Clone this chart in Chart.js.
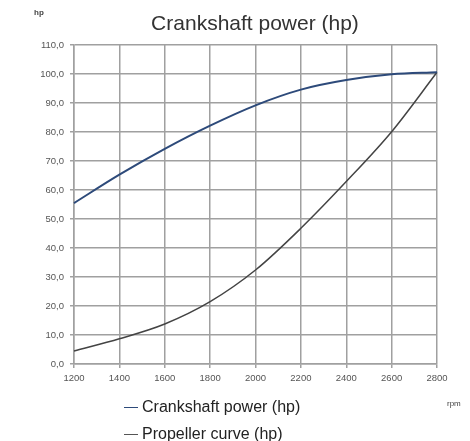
<!DOCTYPE html>
<html><head><meta charset="utf-8">
<script src="https://cdn.jsdelivr.net/npm/chart.js@4/dist/chart.umd.min.js"></script>
<style>
html,body{margin:0;padding:0;background:#fff;}
#wrap{position:relative;width:470px;height:441px;overflow:hidden;font-family:"Liberation Sans",Arial,sans-serif;}
canvas{position:absolute;left:0;top:0;}
.t{position:absolute;white-space:nowrap;color:#333;}
.lg{position:absolute;left:124px;font-size:16px;color:#222;white-space:nowrap;}
.lg span{display:inline-block;width:14px;height:0;border-top:1.5px solid;vertical-align:middle;margin-right:4px;}
</style></head>
<body><div id="wrap">
<canvas id="c" width="470" height="441"></canvas>
<div class="t" style="left:0;width:470px;top:11px;text-align:center;font-size:21px;padding-left:40px;box-sizing:border-box;">Crankshaft power (hp)</div>
<div class="t" style="left:34px;top:8px;font-size:8px;font-weight:bold;color:#444;">hp</div>
<div class="t" style="left:447px;top:399px;font-size:8px;color:#444;">rpm</div>
<div class="lg" style="top:398px;"><span style="border-color:#2d4a7a"></span>Crankshaft power (hp)</div>
<div class="lg" style="top:425px;"><span style="border-color:#555"></span>Propeller curve (hp)</div>
</div>
<script>
const rpm = ["1200","1400","1600","1800","2000","2200","2400","2600","2800"];
const crankshaft = [55.5, 65.3, 74.2, 82.2, 89.2, 94.6, 97.9, 99.9, 100.6];
const propeller = [4.5, 8.7, 13.8, 21.5, 32.4, 46.8, 62.9, 80.1, 100.6];
const yTicks = [0,10,20,30,40,50,60,70,80,90,100,110];

new Chart(document.getElementById('c'), {
  type: 'line',
  data: {
    labels: rpm,
    datasets: [
      {label:'Crankshaft power (hp)', data: crankshaft, borderColor:'#2d4a7a', borderWidth:2, pointRadius:0, tension:0.35, cubicInterpolationMode:'monotone', fill:false},
      {label:'Propeller curve (hp)', data: propeller, borderColor:'#444', borderWidth:1.5, pointRadius:0, tension:0.35, cubicInterpolationMode:'monotone', fill:false}
    ]
  },
  options: {
    responsive:false, animation:false,
    layout:{padding:{left:0,right:33,top:45,bottom:0}},
    plugins:{legend:{display:false}, title:{display:false}, tooltip:{enabled:false}},
    scales:{
      x:{
        offset:false,
        grid:{color:'#a0a0a0', lineWidth:1.5, tickLength:4, drawTicks:true},
        border:{color:'#a0a0a0', width:1.5},
        ticks:{color:'#555', font:{size:9.5, family:'"Liberation Sans", Arial'}, maxRotation:0, padding:5},
        afterFit:(s)=>{s.height=77;}
      },
      y:{
        min:0, max:110,
        afterBuildTicks:(s)=>{s.ticks = yTicks.map(v=>({value:v}));},
        grid:{color:'#a0a0a0', lineWidth:1.5, tickLength:4},
        border:{color:'#a0a0a0', width:1.5},
        ticks:{color:'#555', font:{size:9.5, family:'"Liberation Sans", Arial'}, padding:6,
          callback:(v)=>v.toFixed(1).replace('.',',')},
        afterFit:(s)=>{s.width=74;}
      }
    }
  }
});
</script>
</body></html>
